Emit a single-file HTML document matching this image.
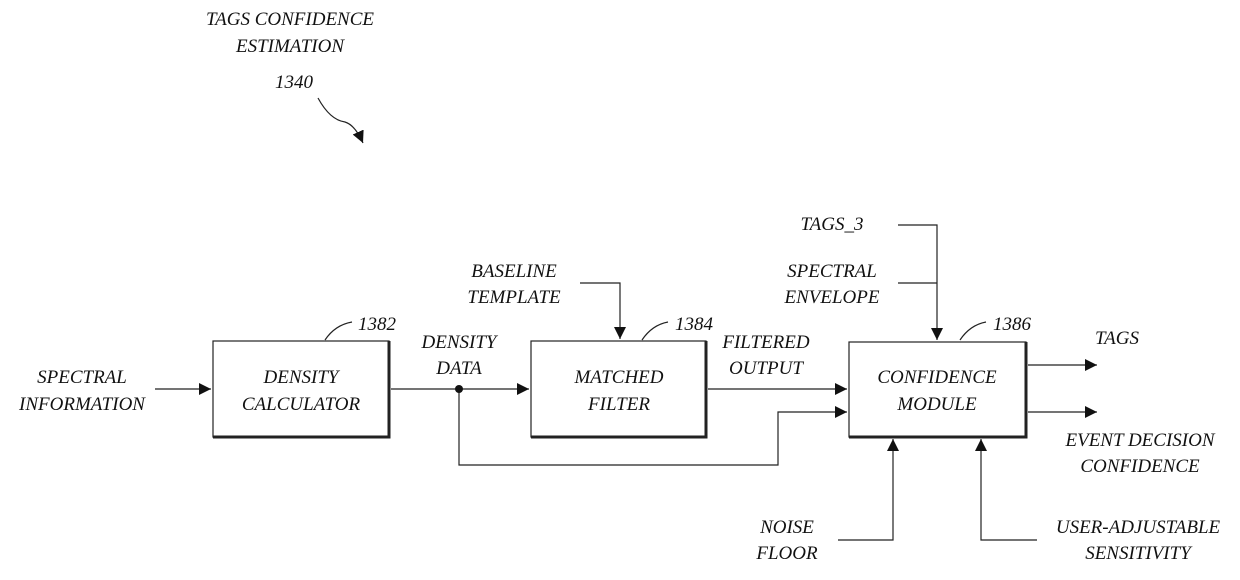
<!DOCTYPE html>
<html><head><meta charset="utf-8"><style>
body{margin:0;background:#fff}
svg text{font-family:"Liberation Serif",serif;font-style:italic;font-size:19px;fill:#111}
</style></head><body>
<svg width="1240" height="575" viewBox="0 0 1240 575" xmlns="http://www.w3.org/2000/svg">
<defs><marker id="a" viewBox="0 0 10 10" refX="10" refY="5" markerWidth="12" markerHeight="12" markerUnits="userSpaceOnUse" orient="auto"><path d="M0,0 L10,5 L0,10 z" fill="#111"/></marker></defs>
<g fill="none" stroke="#222" stroke-width="1.2">
<!-- boxes -->
<rect x="213" y="341" width="176" height="96"/>
<path d="M389,341 V437 H213" stroke-width="3"/>
<rect x="531" y="341" width="175" height="96"/>
<path d="M706,341 V437 H531" stroke-width="3"/>
<rect x="849" y="342" width="177" height="95"/>
<path d="M1026,342 V437 H849" stroke-width="3"/>
<!-- connectors -->
<path d="M155,389 H211" marker-end="url(#a)"/>
<path d="M391,389 H529" marker-end="url(#a)"/>
<path d="M580,283 H620 V339" marker-end="url(#a)"/>
<path d="M708,389 H847" marker-end="url(#a)"/>
<path d="M459,389 V465 H778 V412 H847" marker-end="url(#a)"/>
<path d="M898,225 H937 V340" marker-end="url(#a)"/>
<path d="M898,283 H937"/>
<path d="M1028,365 H1097" marker-end="url(#a)"/>
<path d="M1028,412 H1097" marker-end="url(#a)"/>
<path d="M838,540 H893 V439" marker-end="url(#a)"/>
<path d="M1037,540 H981 V439" marker-end="url(#a)"/>
<!-- ref leaders -->
<path d="M325,340 Q335,325 352,322"/>
<path d="M642,340 Q652,325 668,322"/>
<path d="M960,340 Q970,325 986,322"/>
<path d="M318,98 Q330,120 345,122 Q355,125 363,143" marker-end="url(#a)"/>
</g>
<circle cx="459" cy="389" r="4" fill="#111"/>
<g text-anchor="middle">
<text x="290" y="25" font-style="normal">TAGS CONFIDENCE</text>
<text x="290" y="52" font-style="normal">ESTIMATION</text>
<text x="294" y="88">1340</text>
<text x="377" y="330">1382</text>
<text x="694" y="330">1384</text>
<text x="1012" y="330">1386</text>
<text x="82" y="383" font-style="normal">SPECTRAL</text>
<text x="82" y="410" font-style="normal">INFORMATION</text>
<text x="301" y="383" font-style="normal">DENSITY</text>
<text x="301" y="410" font-style="normal">CALCULATOR</text>
<text x="459" y="348" font-style="normal">DENSITY</text>
<text x="459" y="374" font-style="normal">DATA</text>
<text x="514" y="277" font-style="normal">BASELINE</text>
<text x="514" y="303" font-style="normal">TEMPLATE</text>
<text x="619" y="383" font-style="normal">MATCHED</text>
<text x="619" y="410" font-style="normal">FILTER</text>
<text x="766" y="348" font-style="normal">FILTERED</text>
<text x="766" y="374" font-style="normal">OUTPUT</text>
<text x="832" y="230" font-style="normal">TAGS_3</text>
<text x="832" y="277" font-style="normal">SPECTRAL</text>
<text x="832" y="303" font-style="normal">ENVELOPE</text>
<text x="937" y="383" font-style="normal">CONFIDENCE</text>
<text x="937" y="410" font-style="normal">MODULE</text>
<text x="1117" y="344" font-style="normal">TAGS</text>
<text x="1140" y="446" font-style="normal">EVENT DECISION</text>
<text x="1140" y="472" font-style="normal">CONFIDENCE</text>
<text x="787" y="533" font-style="normal">NOISE</text>
<text x="787" y="559" font-style="normal">FLOOR</text>
<text x="1138" y="533" font-style="normal">USER-ADJUSTABLE</text>
<text x="1138" y="559" font-style="normal">SENSITIVITY</text>
</g>
</svg>
</body></html>
